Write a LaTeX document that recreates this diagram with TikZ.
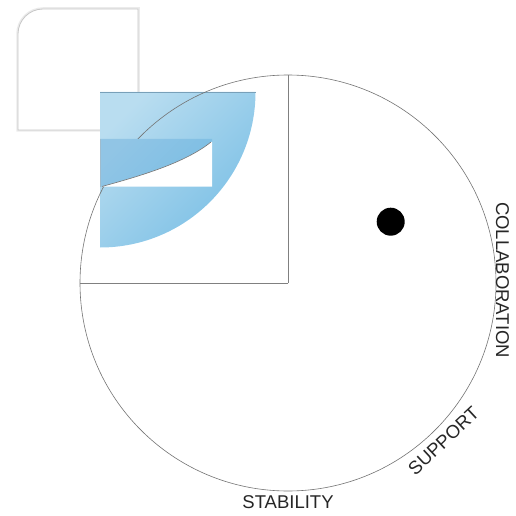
\documentclass[tikz,border=0pt]{standalone}
\usepackage{fontspec}
\setmainfont{Liberation Sans}
\definecolor{skyA}{RGB}{185,221,240}
\definecolor{skyB}{RGB}{122,191,229}
\definecolor{bandA}{RGB}{145,197,229}
\definecolor{bandB}{RGB}{124,190,228}
\definecolor{lineg}{RGB}{115,115,115}
\definecolor{edgeb}{RGB}{120,160,185}
\begin{document}
\begin{tikzpicture}[x=1pt,y=1pt,
  thinline/.style={draw=lineg, line width=0.6pt},
  ringtext/.style={font=\fontsize{18.5}{20}\selectfont, text=black!85, inner sep=0pt}]
\useasboundingbox (0,0) rectangle (516,515);
% rounded square card
\draw[black!8, line width=3.5pt] (18,385) -- (18,481) arc[start angle=180,end angle=90,radius=25] -- (138,506) -- (138,385) -- cycle;
\draw[black!22, line width=0.8pt, fill=white] (18,385) -- (18,481) arc[start angle=180,end angle=90,radius=25] -- (138,506) -- (138,385) -- cycle;
% blue quarter disc
\shade[top color=skyA, bottom color=skyB, shading angle=45] (100,423) -- (255.5,423) arc[start angle=0,end angle=-90,radius=155.5] -- cycle;
\draw[edgeb, line width=0.9pt] (100,423) -- (255.5,423);
% circle and radii
\coordinate (C) at (288,232);
\coordinate (T) at (288,440);
\coordinate (L) at (80,232);
\draw[thinline] (C) circle[radius=208];
\draw[thinline, draw=gray] (C) -- (T) (C) -- (L);
% darker band
\shade[top color=bandA, bottom color=bandB, shading angle=45] (100,328.5) -- (100,376) -- (212,376) -- (212,373) -- (211,373) .. controls (185,352) and (140,339) .. (102,328.5) -- cycle;
\draw[edgeb!70, line width=0.6pt] (100,328.5) -- (100,376);
% white notch
\fill[white] (102,328.5) .. controls (140,339) and (185,352) .. (211,373) -- (212,373) -- (212,328.5) -- cycle;
\draw[thinline] (102,328.5) .. controls (140,339) and (185,352) .. (211,373);
% dot
\fill[black] (390.7,293.3) circle[radius=14];
% labels
\node[ringtext, rotate=-90] (collab) at (502.5,235) {COLLABORATION};
\node[ringtext, rotate=43] (support) at (443.5,74) {SUPPORT};
\node[ringtext] (stab) at (288,12.5) {STABILITY};
\end{tikzpicture}
\end{document}
